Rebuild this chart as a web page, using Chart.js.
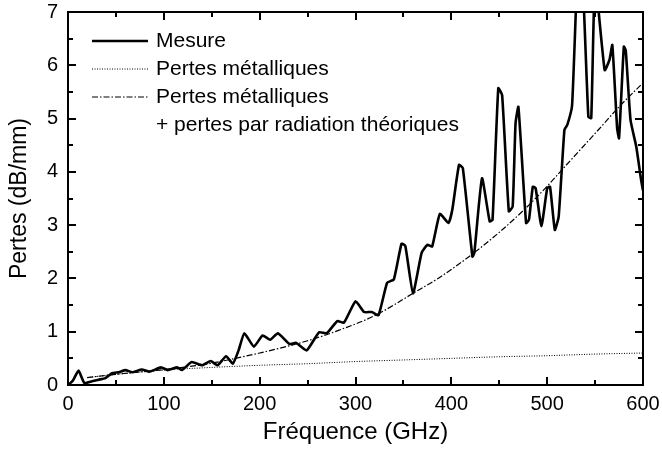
<!DOCTYPE html>
<html>
<head>
<meta charset="utf-8">
<script src="https://cdn.jsdelivr.net/npm/chart.js@4/dist/chart.umd.min.js"></script>
<style>
  html, body { margin: 0; padding: 0; background: #fff; }
  #wrap { width: 662px; height: 453px; }
</style>
</head>
<body>
<div id="wrap"><canvas id="c" width="662" height="453"></canvas></div>
<script>
// Measured losses (dB/mm) versus frequency (GHz)
const freqMesure = [0,5,11,17,25,32,39,46,53,60,67,77,85,97,104,114,119,129,140,149,156,165,172,178,184,194,203,211,219,231,238,249,262,270,281,288,300,309,317,324,333,340,348,352,360,369,375,380,388,397,401,408,412,422,424,432,440,443,449,453,460,464,467,470,478,481,485,488,494,500,503,508,512,518,521,526,531,534,538,543,546,550,560,565,568,573,575,580,582,587,593,598,600];
const pertesMesure = [0,0.08,0.27,0.04,0.07,0.10,0.13,0.22,0.24,0.28,0.24,0.29,0.25,0.33,0.28,0.33,0.28,0.43,0.37,0.45,0.37,0.54,0.40,0.65,0.97,0.72,0.93,0.85,0.97,0.77,0.79,0.65,0.99,0.97,1.20,1.17,1.57,1.37,1.37,1.31,1.92,1.98,2.65,2.61,1.72,2.48,2.63,2.60,3.21,3.04,3.29,4.13,4.07,2.41,2.48,3.88,3.07,3.10,5.57,5.44,3.26,3.35,4.91,5.22,3.04,3.10,3.72,3.69,2.98,3.69,3.72,2.91,3.16,4.79,4.88,5.25,7.50,8.00,7.20,5.03,5.01,7.60,5.91,6.10,6.38,4.82,4.63,6.35,6.28,4.97,4.47,3.85,3.65];

// Metallic losses alone
const freqMetal = [20,50,100,150,200,250,300,350,400,450,500,550,600];
const pertesMetal = [0.14,0.20,0.28,0.33,0.37,0.40,0.44,0.47,0.50,0.53,0.55,0.58,0.60];

// Metallic losses + theoretical radiation losses
const freqTotal = [20,50,100,150,177,200,250,283,321,360,387,420,451,476,500,514,554,575,600];
const pertesTotal = [0.14,0.20,0.29,0.41,0.51,0.60,0.83,1.03,1.31,1.72,2.01,2.43,2.88,3.29,3.73,4.01,4.80,5.22,5.67];

// Axis ticks
const xTicks = [0,100,200,300,400,500,600];
const yTicks = [0,1,2,3,4,5,6,7];

const legendLabels = ['Mesure', 'Pertes métalliques', 'Pertes métalliques', '+ pertes par radiation théoriques'];

const FONT = '"Liberation Sans", Arial, Helvetica, sans-serif';
const toPoints = (xs, ys) => xs.map((x, i) => ({ x: x, y: ys[i] }));

// Boxed frame with inward major/minor ticks on all four sides, plus the in-plot legend
const framePlugin = {
  id: 'frame',
  afterDatasetsDraw(chart) {
    const { ctx, chartArea: a, scales: { x, y } } = chart;
    ctx.save();
    ctx.strokeStyle = '#000';
    ctx.lineWidth = 2;
    ctx.setLineDash([]);
    ctx.strokeRect(a.left, a.top, a.right - a.left, a.bottom - a.top);
    const major = 8, minor = 5;
    ctx.beginPath();
    for (let v = 0; v <= 600; v += 50) {
      const px = Math.round(x.getPixelForValue(v));
      const len = v % 100 === 0 ? major : minor;
      ctx.moveTo(px, a.bottom); ctx.lineTo(px, a.bottom - len);
      ctx.moveTo(px, a.top); ctx.lineTo(px, a.top + len);
    }
    for (let v = 0; v <= 7; v += 0.5) {
      const py = Math.round(y.getPixelForValue(v));
      const len = Number.isInteger(v) ? major : minor;
      ctx.moveTo(a.left, py); ctx.lineTo(a.left + len, py);
      ctx.moveTo(a.right, py); ctx.lineTo(a.right - len, py);
    }
    ctx.stroke();

    // legend
    const ds = chart.data.datasets;
    const rows = [41, 69, 97];
    const x0 = 92, x1 = 148, tx = 156;
    ctx.font = '21px ' + FONT;
    ctx.fillStyle = '#000';
    ctx.textBaseline = 'middle';
    ctx.textAlign = 'left';
    ds.forEach((d, i) => {
      ctx.beginPath();
      ctx.lineWidth = d.borderWidth;
      ctx.setLineDash(d.borderDash || []);
      ctx.moveTo(x0, rows[i]); ctx.lineTo(x1, rows[i]);
      ctx.stroke();
    });
    ctx.setLineDash([]);
    ctx.fillText(legendLabels[0], tx, rows[0]);
    ctx.fillText(legendLabels[1], tx, rows[1]);
    ctx.fillText(legendLabels[2], tx, rows[2]);
    ctx.fillText(legendLabels[3], tx, 125);
    ctx.restore();
  }
};

new Chart(document.getElementById('c'), {
  type: 'line',
  data: {
    datasets: [
      {
        label: legendLabels[0],
        data: toPoints(freqMesure, pertesMesure),
        borderColor: '#000', borderWidth: 2.6, tension: 0.15,
        pointRadius: 0, fill: false
      },
      {
        label: legendLabels[1],
        data: toPoints(freqMetal, pertesMetal),
        borderColor: '#000', borderWidth: 1, borderDash: [1, 1.5],
        cubicInterpolationMode: 'monotone', pointRadius: 0, fill: false
      },
      {
        label: legendLabels[2],
        data: toPoints(freqTotal, pertesTotal),
        borderColor: '#000', borderWidth: 1.2, borderDash: [6, 2, 1.5, 2],
        cubicInterpolationMode: 'monotone', pointRadius: 0, fill: false
      }
    ]
  },
  options: {
    responsive: false,
    animation: false,
    devicePixelRatio: 1,
    layout: { padding: { top: 12, right: 19, left: 0, bottom: 0 } },
    plugins: { legend: { display: false }, tooltip: { enabled: false } },
    scales: {
      x: {
        type: 'linear', min: 0, max: 600,
        afterFit(s) { s.height = 68; s.paddingLeft = 0; s.paddingRight = 0; },
        afterBuildTicks(s) { s.ticks = xTicks.map(v => ({ value: v })); },
        grid: { display: false, drawTicks: false, tickLength: 0 },
        border: { display: false },
        ticks: { color: '#000', font: { family: FONT, size: 20 }, padding: 7, maxRotation: 0 },
        title: { display: true, text: 'Fréquence (GHz)', color: '#000',
                 font: { family: FONT, size: 24 }, padding: { top: 0, bottom: 6 } }
      },
      y: {
        type: 'linear', min: 0, max: 7,
        afterFit(s) { s.width = 68; s.paddingTop = 0; s.paddingBottom = 0; },
        afterBuildTicks(s) { s.ticks = yTicks.map(v => ({ value: v })); },
        grid: { display: false, drawTicks: false, tickLength: 0 },
        border: { display: false },
        ticks: { color: '#000', font: { family: FONT, size: 20 }, padding: 10 },
        title: { display: true, text: 'Pertes (dB/mm)', color: '#000',
                 font: { family: FONT, size: 23 }, padding: { top: 6, bottom: 0 } }
      }
    }
  },
  plugins: [framePlugin]
});
</script>
</body>
</html>
